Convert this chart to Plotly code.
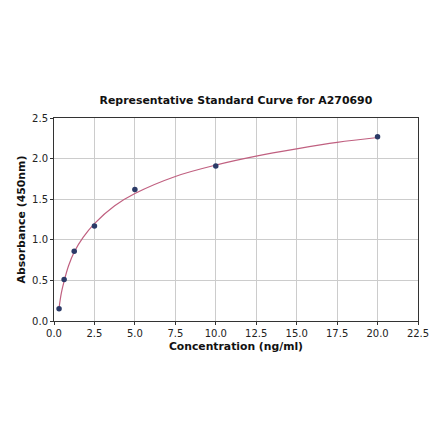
import plotly.graph_objects as go

# standards measured
conc = [0.3125, 0.625, 1.25, 2.5, 5.0, 10.0, 20.0]
absorbance = [0.15, 0.51, 0.86, 1.17, 1.62, 1.91, 2.27]

# fitted curve
curve_x = [0.3125, 0.45, 0.625, 0.9, 1.25, 1.8, 2.5, 3.75, 5.0, 7.5, 10.0, 12.5, 15.0, 17.5, 20.0]
curve_y = [0.16, 0.34, 0.49, 0.68, 0.85, 1.03, 1.20, 1.42, 1.57, 1.78, 1.92, 2.03, 2.12, 2.20, 2.26]

x_ticks = [0, 2.5, 5, 7.5, 10, 12.5, 15, 17.5, 20, 22.5]
y_ticks = [0, 0.5, 1.0, 1.5, 2.0, 2.5]


def main() -> None:
    fig = go.Figure()
    fig.add_trace(go.Scatter(
        x=curve_x, y=curve_y, mode="lines", line_shape="spline",
        line=dict(color="#c06080", width=1.2), hoverinfo="skip",
    ))
    fig.add_trace(go.Scatter(
        x=conc, y=absorbance, mode="markers",
        marker=dict(color="#2b3a67", size=5.5),
    ))

    axis_common = dict(
        showgrid=True, gridcolor="#cccccc", gridwidth=1,
        showline=True, linecolor="#333333", linewidth=1, mirror=True,
        ticks="outside", ticklen=3, tickcolor="#333333",
        tickfont=dict(family="DejaVu Sans", size=10, color="#222222"),
        zeroline=False,
    )
    fig.update_xaxes(
        range=[0, 22.5], tickvals=x_ticks,
        ticktext=[f"{v:.1f}" for v in x_ticks],
        title=dict(text="<b>Concentration (ng/ml)</b>",
                   font=dict(family="DejaVu Sans", size=10.8, color="#111111"),
                   standoff=4),
        **axis_common,
    )
    fig.update_yaxes(
        range=[0, 2.5], tickvals=y_ticks,
        ticktext=[f"{v:.1f}" for v in y_ticks],
        title=dict(text="<b>Absorbance (450nm)</b>",
                   font=dict(family="DejaVu Sans", size=10.9, color="#111111"),
                   standoff=4),
        automargin=False,
        **axis_common,
    )
    fig.update_layout(
        width=440, height=441,
        margin=dict(l=46, r=30, t=110, b=128),
        plot_bgcolor="white", paper_bgcolor="white",
        showlegend=False,
        title=dict(text="<b>Representative Standard Curve for A270690</b>",
                   font=dict(family="DejaVu Sans", size=10.9, color="#111111"),
                   x=0.518, xanchor="center", y=0.791, yanchor="middle"),
    )
    fig.write_html("out.html")


if __name__ == "__main__":
    main()
